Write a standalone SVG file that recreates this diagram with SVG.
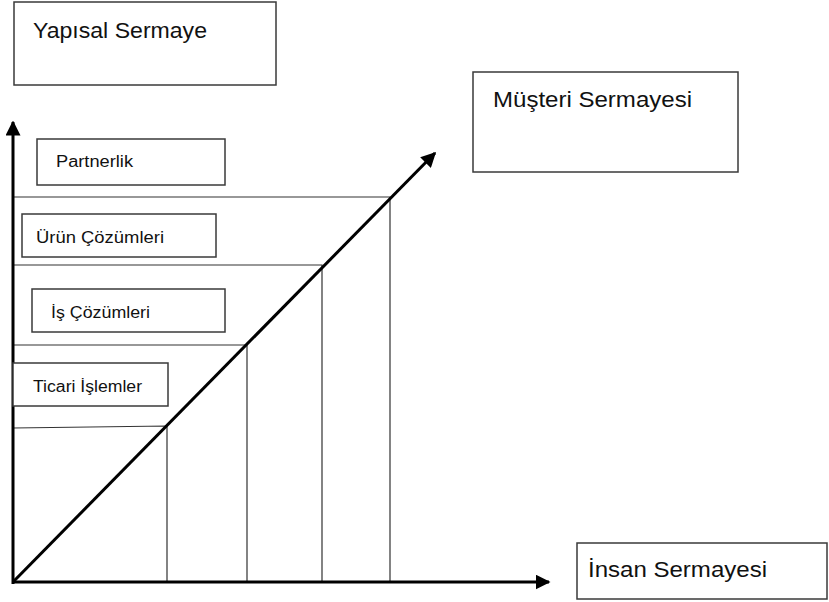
<svg xmlns="http://www.w3.org/2000/svg" width="829" height="602" viewBox="0 0 829 602">
<style>
.box{fill:#fff;stroke:#3a3a3a;stroke-width:1.5}
.big{font-family:"Liberation Sans",Arial,sans-serif;font-size:22px;fill:#111}
.sm{font-family:"Liberation Sans",Arial,sans-serif;font-size:16px;fill:#111}
.grid{stroke:#333;stroke-width:1.2;fill:none}
.axis{stroke:#000;stroke-width:3;fill:none}
</style>
<defs>
<marker id="ah" viewBox="0 0 10 10" refX="9" refY="5" markerWidth="5" markerHeight="5" orient="auto" markerUnits="strokeWidth">
<path d="M0,0 L10,5 L0,10 z" fill="#000"/>
</marker>
</defs>
<rect width="829" height="602" fill="#fff"/>
<g id="connectors">
<path class="grid" d="M13,197 H390 V582"/>
<path class="grid" d="M13,265 H322 V582"/>
<path class="grid" d="M13,345 H247 V582"/>
<path class="grid" d="M13,428 L167,426 V582"/>
<line class="axis" x1="13" y1="584" x2="13" y2="122" marker-end="url(#ah)"/>
<line class="axis" x1="12" y1="582" x2="549" y2="582" marker-end="url(#ah)"/>
<line class="axis" x1="13" y1="582" x2="435" y2="153" marker-end="url(#ah)"/>
</g>
<g id="yapisal">
<rect class="box" x="14" y="2" width="262" height="83"/>
<text class="big" x="33" y="38" textLength="174" lengthAdjust="spacingAndGlyphs">Yapısal Sermaye</text>
</g>
<g id="musteri">
<rect class="box" x="473" y="72" width="265" height="100"/>
<text class="big" x="493" y="107" textLength="199" lengthAdjust="spacingAndGlyphs">Müşteri Sermayesi</text>
</g>
<g id="insan">
<rect class="box" x="577" y="543" width="250" height="56"/>
<text class="big" x="588" y="577" textLength="179" lengthAdjust="spacingAndGlyphs">İnsan Sermayesi</text>
</g>
<g id="partnerlik">
<rect class="box" x="37" y="139" width="188" height="46"/>
<text class="sm" x="56" y="167" textLength="77" lengthAdjust="spacingAndGlyphs">Partnerlik</text>
</g>
<g id="urun">
<rect class="box" x="22" y="214" width="194" height="43"/>
<text class="sm" x="36" y="243" textLength="128" lengthAdjust="spacingAndGlyphs">Ürün Çözümleri</text>
</g>
<g id="is">
<rect class="box" x="32" y="289" width="193" height="43"/>
<text class="sm" x="51" y="318" textLength="99" lengthAdjust="spacingAndGlyphs">İş Çözümleri</text>
</g>
<g id="ticari">
<rect class="box" x="13" y="363" width="155" height="43"/>
<text class="sm" x="33" y="392" textLength="109" lengthAdjust="spacingAndGlyphs">Ticari İşlemler</text>
</g>
</svg>
